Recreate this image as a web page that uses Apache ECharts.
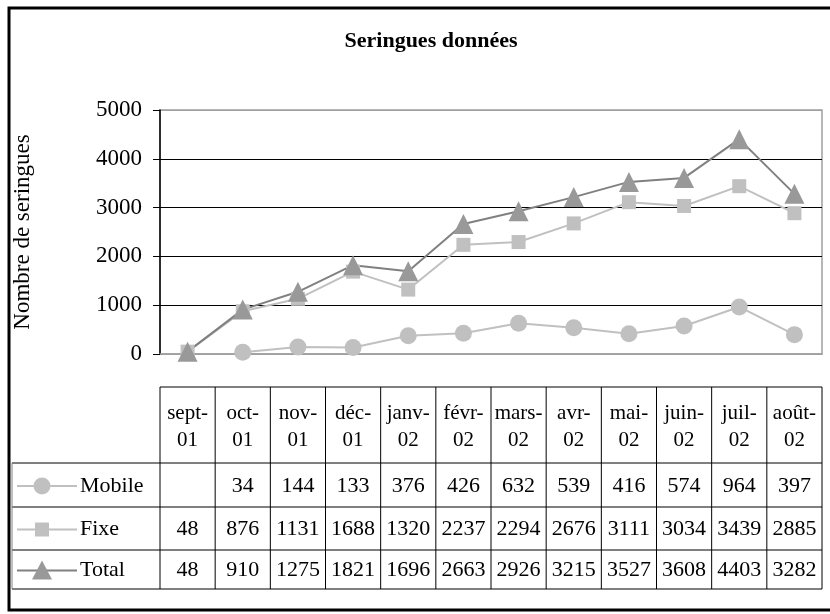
<!DOCTYPE html>
<html>
<head>
<meta charset="utf-8">
<script src="https://cdn.jsdelivr.net/npm/echarts@6/dist/echarts.min.js"></script>
<style>
  html, body { margin: 0; padding: 0; background: #fff; overflow: hidden; }
  #chart { width: 830px; height: 614px; }
</style>
</head>
<body>
<div id="chart"></div>
<script>
const categories = ['sept-01', 'oct-01', 'nov-01', 'déc-01', 'janv-02', 'févr-02', 'mars-02', 'avr-02', 'mai-02', 'juin-02', 'juil-02', 'août-02']
const mobile = [null, 34, 144, 133, 376, 426, 632, 539, 416, 574, 964, 397]
const fixe = [48, 876, 1131, 1688, 1320, 2237, 2294, 2676, 3111, 3034, 3439, 2885]
const total = [48, 910, 1275, 1821, 1696, 2663, 2926, 3215, 3527, 3608, 4403, 3282]
const seriesNames = ['Mobile', 'Fixe', 'Total']

const FONT = '"Liberation Serif", "DejaVu Serif", serif'
const GRID = { left: 160, right: 8, top: 110, bottom: 260 }
const lineColors = ['#c0c0c0', '#c0c0c0', '#808080']
const markColors = ['#c0c0c0', '#c0c0c0', '#999999']

const chart = echarts.init(document.getElementById('chart'), null, { renderer: 'canvas' })

chart.setOption({
  backgroundColor: '#fff',
  animation: false,
  title: {
    text: 'Seringues données',
    left: 426,
    top: 25,
    textAlign: 'center',
    textStyle: { fontFamily: FONT, fontSize: 22, fontWeight: 'bold', color: '#000' },
  },
  grid: {
    ...GRID,
    show: true,
    borderColor: '#a0a0a0',
    borderWidth: 1.5,
    containLabel: false,
  },
  xAxis: {
    type: 'category',
    data: categories,
    boundaryGap: true,
    axisLine: { lineStyle: { color: '#a0a0a0', width: 1.5 } },
    axisTick: { show: false },
    axisLabel: {
      margin: 46,
      interval: 0,
      fontFamily: FONT,
      fontSize: 21,
      color: '#000',
      lineHeight: 27,
      formatter: v => v.replace('-', '-\n'),
    },
  },
  yAxis: {
    type: 'value',
    min: 0,
    max: 5000,
    interval: 1000,
    name: 'Nombre de seringues',
    nameLocation: 'middle',
    nameRotate: 90,
    nameGap: 126,
    nameTextStyle: { fontFamily: FONT, fontSize: 23, color: '#000' },
    axisLine: { show: true, lineStyle: { color: '#000', width: 1.5 } },
    axisTick: { show: true, length: 7, lineStyle: { color: '#000' } },
    axisLabel: { margin: 18, fontFamily: FONT, fontSize: 23, color: '#000', formatter: v => String(v) },
    splitLine: {
      lineStyle: { color: ['#a0a0a0', '#000', '#000', '#000', '#000', '#a0a0a0'], width: 1 },
    },
  },
  series: [
    {
      name: 'Mobile', type: 'line', data: mobile,
      symbol: 'circle', symbolSize: 17,
      lineStyle: { color: lineColors[0], width: 2 },
      itemStyle: { color: markColors[0] },
    },
    {
      name: 'Fixe', type: 'line', data: fixe,
      symbol: 'rect', symbolSize: 14,
      lineStyle: { color: lineColors[1], width: 2 },
      itemStyle: { color: markColors[1] },
    },
    {
      name: 'Total', type: 'line', data: total,
      symbol: 'triangle', symbolSize: 20,
      lineStyle: { color: lineColors[2], width: 2 },
      itemStyle: { color: markColors[2] },
    },
  ],
})

// data table under the plot, columns aligned to the category axis
function buildTable() {
  const x0 = chart.convertToPixel({ xAxisIndex: 0 }, 0)
  const x1 = chart.convertToPixel({ xAxisIndex: 0 }, 1)
  const band = x1 - x0
  const left = x0 - band / 2
  const right = left + band * categories.length
  const headTop = 387
  const rowEdges = [463, 507, 550, 589]
  const tableLeft = 12
  const els = []
  const line = (ax, ay, bx, by, color) => els.push({
    type: 'line', silent: true,
    shape: { x1: ax, y1: ay, x2: bx, y2: by },
    style: { stroke: color || '#000', lineWidth: 1 },
  })

  line(left, headTop, right, headTop)
  rowEdges.forEach(y => line(tableLeft, y, right, y))
  for (let i = 0; i <= categories.length; i++)
    line(left + band * i, headTop, left + band * i, rowEdges[3])
  line(tableLeft, rowEdges[0], tableLeft, rowEdges[3], '#808080')

  const rows = [mobile, fixe, total]
  rows.forEach((values, r) => {
    const cy = (rowEdges[r] + rowEdges[r + 1]) / 2 + 1
    values.forEach((v, i) => {
      if (v == null)
        return
      els.push({
        type: 'text', silent: true,
        x: chart.convertToPixel({ xAxisIndex: 0 }, i), y: cy,
        style: { text: String(v), fontFamily: FONT, fontSize: 22, fill: '#000', align: 'center', verticalAlign: 'middle' },
      })
    })
    // legend key
    els.push({
      type: 'line', silent: true,
      shape: { x1: 17, y1: cy, x2: 77, y2: cy },
      style: { stroke: lineColors[r], lineWidth: 2 },
    })
    if (r === 0)
      els.push({ type: 'circle', silent: true, shape: { cx: 42, cy, r: 8.5 }, style: { fill: markColors[r] } })
    else if (r === 1)
      els.push({ type: 'rect', silent: true, shape: { x: 35, y: cy - 7, width: 14, height: 14 }, style: { fill: markColors[r] } })
    else
      els.push({ type: 'polygon', silent: true, shape: { points: [[42, cy - 10], [52, cy + 9], [32, cy + 9]] }, style: { fill: markColors[r] } })
    els.push({
      type: 'text', silent: true, x: 80, y: cy,
      style: { text: seriesNames[r], fontFamily: FONT, fontSize: 22, fill: '#000', align: 'left', verticalAlign: 'middle' },
    })
  })

  // outer chart border (right side falls outside the picture)
  els.push({
    type: 'polyline', silent: true,
    shape: { points: [[830, 8], [9, 8], [9, 610], [830, 610]] },
    style: { fill: 'none', stroke: '#000', lineWidth: 3 },
  })
  chart.setOption({ graphic: { elements: els } })
}

buildTable()
</script>
</body>
</html>
